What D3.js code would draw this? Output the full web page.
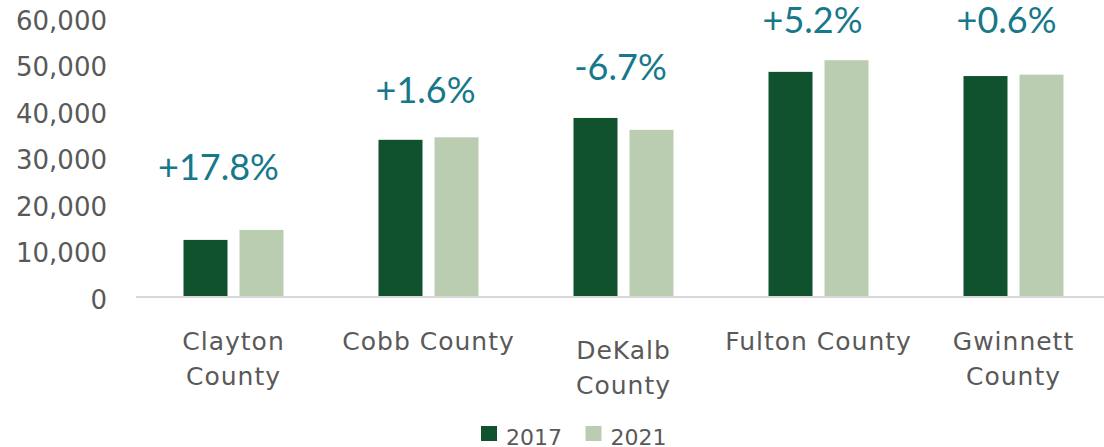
<!DOCTYPE html>
<html>
<head>
<meta charset="utf-8">
<script src="https://cdn.jsdelivr.net/npm/d3@7"></script>
<style>
  html, body { margin: 0; padding: 0; background: #ffffff; }
  svg { display: block; }
</style>
</head>
<body>
<svg id="chart" width="1104" height="447"></svg>
<script>
// ---- data ----
const categories = ["Clayton County", "Cobb County", "DeKalb County", "Fulton County", "Gwinnett County"];
const categoryLines = [["Clayton", "County"], ["Cobb County"], ["DeKalb", "County"], ["Fulton County"], ["Gwinnett", "County"]];
const seriesNames = ["2017", "2021"];
const values2017 = [12050, 33550, 38250, 48150, 47250];
const values2021 = [14190, 34090, 35690, 50650, 47550];
const changeLabels = ["+17.8%", "+1.6%", "-6.7%", "+5.2%", "+0.6%"];
const yTicks = [0, 10000, 20000, 30000, 40000, 50000, 60000];

// ---- layout / style (not data) ----
const W = 1104, H = 447;
const plotLeft = 136, plotRight = 1111, baseY = 296, topY = 296 - 6 * 46.55;
const colors = { "2017": "#10522e", "2021": "#bbcdb1" };
const textGray = "#595959";
const teal = "#17788a";
const sans = "'DejaVu Sans', sans-serif";
// annotation anchors (value units, placed through the y scale)
const labelAnchor = [24920, 41460, 46400, 56400, 56500];
const catLabelShift = [0, 0, 9, 0, 0];
const labelShiftX = [-15, -3, -3, -6, -7];

const svg = d3.select("#chart");

const x = d3.scaleBand().domain(categories).range([plotLeft, plotRight]).paddingInner(0).paddingOuter(0);
const xs = d3.scaleBand().domain(seriesNames).range([-50, 50]).paddingInner(0.2143).paddingOuter(0);
const y = d3.scaleLinear().domain([0, 60000]).range([baseY, topY]);

const rows = categories.map((c, i) => ({ cat: c, i, vals: { "2017": values2017[i], "2021": values2021[i] } }));

// y axis (labels only)
const yAxis = d3.axisLeft(y).tickValues(yTicks).tickSize(0).tickPadding(0).tickFormat(d3.format(","));
const gy = svg.append("g").attr("transform", "translate(107,0)").call(yAxis);
gy.select(".domain").remove();
gy.selectAll("text")
  .attr("fill", textGray)
  .attr("font-family", sans)
  .attr("font-size", 26)
  .attr("dy", "0.48em");

// bars
const groups = svg.append("g").selectAll("g").data(rows).join("g")
  .attr("transform", d => `translate(${x(d.cat) + x.bandwidth() / 2},0)`);
groups.selectAll("rect").data(d => seriesNames.map(s => ({ s, v: d.vals[s] }))).join("rect")
  .attr("x", d => xs(d.s))
  .attr("width", xs.bandwidth())
  .attr("y", d => y(d.v))
  .attr("height", d => baseY - y(d.v))
  .attr("fill", d => colors[d.s]);

// baseline axis line
svg.append("line")
  .attr("x1", plotLeft).attr("x2", W)
  .attr("y1", baseY + 1).attr("y2", baseY + 1)
  .attr("stroke", "#d9d9d9").attr("stroke-width", 2);

// change labels
svg.append("g").selectAll("text").data(rows).join("text")
  .attr("x", d => x(d.cat) + x.bandwidth() / 2 + labelShiftX[d.i])
  .attr("y", d => y(labelAnchor[d.i]))
  .attr("text-anchor", "middle")
  .attr("fill", teal)
  .attr("font-family", "Lato, sans-serif")
  .attr("font-size", 36)
  .text(d => changeLabels[d.i]);

// category labels
const cl = svg.append("g").selectAll("text").data(rows).join("text")
  .attr("text-anchor", "middle")
  .attr("fill", textGray)
  .attr("font-family", sans)
  .attr("font-size", 25)
  .attr("letter-spacing", 1)
  .attr("transform", d => `translate(${x(d.cat) + x.bandwidth() / 2},${350 + catLabelShift[d.i]})`);
cl.selectAll("tspan").data(d => categoryLines[d.i]).join("tspan")
  .attr("x", 0)
  .attr("y", (d, j) => j * 35)
  .text(d => d);

// legend
const legend = svg.append("g").attr("transform", "translate(481,426)");
const li = legend.selectAll("g").data(seriesNames).join("g")
  .attr("transform", (d, i) => `translate(${i * 104.5},0)`);
li.append("rect").attr("width", 16).attr("height", 15).attr("fill", d => colors[d]);
li.append("text")
  .attr("x", 25).attr("y", 19)
  .attr("fill", textGray)
  .attr("font-family", sans)
  .attr("font-size", 22)
  .text(d => d);
</script>
</body>
</html>
